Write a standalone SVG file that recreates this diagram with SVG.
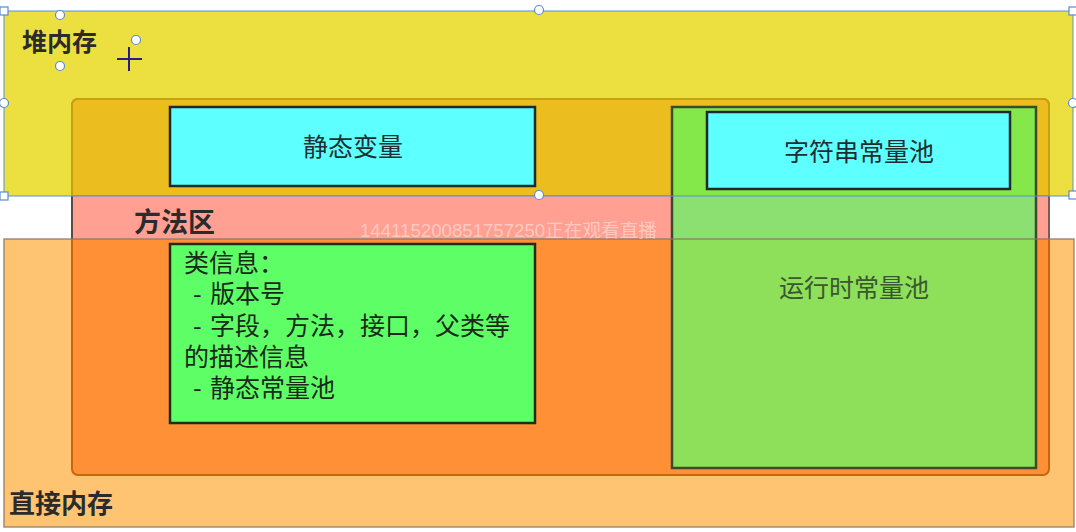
<svg xmlns="http://www.w3.org/2000/svg" width="1076" height="532" viewBox="0 0 1076 532">
  <style>
    .cjk { font-family: "Noto Sans CJK SC", "Noto Sans", sans-serif; }
    .title { font-weight: bold; fill: #2b2b2b; }
    .box { stroke-width: 2.5; }
    .cyan { fill: #5effff; stroke: #1f2b2b; }
    .lbl { font-size: 25px; fill: #1e2e30; }
    .info { font-size: 25px; fill: #1a2a1a; }
    .handle { fill: #ffffff; stroke: #5b8bd0; stroke-width: 1.2; }
  </style>
  <rect width="1076" height="532" fill="#ffffff"/>

  <!-- base fills of outer regions -->
  <g id="heap-fill">
    <rect x="4" y="11" width="1069" height="185" fill="#ebe040"/>
  </g>
  <g id="direct-memory-fill">
    <rect x="4" y="239" width="1070" height="288" fill="#ffc472"/>
  </g>

  <!-- 方法区 -->
  <g id="method-area">
    <rect x="72" y="99" width="977" height="376" rx="6" fill="#ff9036" stroke="#c8650f" stroke-width="2"/>
    <path d="M72,196 V105 a6,6 0 0 1 6,-6 H1043 a6,6 0 0 1 6,6 V196 Z" fill="#ecbd1e" stroke="#c9a012" stroke-width="2"/>
    <rect x="71" y="196" width="979" height="43" fill="#ffa092"/>
    <line x1="72" y1="196" x2="72" y2="239" stroke="#5e4a44" stroke-width="2"/>
    <line x1="1049" y1="196" x2="1049" y2="239" stroke="#7a5a52" stroke-width="2"/>
    <text class="cjk title" x="134" y="232" font-size="27">方法区</text>
  </g>

  <!-- 运行时常量池 -->
  <g id="runtime-constant-pool">
    <rect x="672" y="107" width="364" height="361" fill="#8edf59"/>
    <rect x="672" y="107" width="364" height="89" fill="#84e84b"/>
    <rect x="672" y="196" width="364" height="43" fill="#8ce072"/>
    <rect x="672" y="107" width="364" height="361" fill="none" stroke="#3e4a30" stroke-width="2.5"/>
    <text class="cjk" x="854" y="297" font-size="25" fill="#3a5830" text-anchor="middle">运行时常量池</text>
  </g>

  <!-- 静态变量 -->
  <g id="static-vars">
    <rect class="box cyan" x="170" y="107" width="365" height="79"/>
    <text class="cjk lbl" x="353" y="156" text-anchor="middle">静态变量</text>
  </g>

  <!-- 字符串常量池 -->
  <g id="string-pool">
    <rect class="box cyan" x="707" y="112" width="303" height="77"/>
    <text class="cjk lbl" x="859" y="161" text-anchor="middle">字符串常量池</text>
  </g>

  <!-- 类信息 -->
  <g id="class-info">
    <rect class="box" x="170" y="244" width="365" height="179" fill="#5eff66" stroke="#1e2e1e"/>
    <text class="cjk info">
      <tspan x="184" y="272">类信息：</tspan>
      <tspan x="193" y="303">-</tspan><tspan x="210" y="303">版本号</tspan>
      <tspan x="193" y="335">-</tspan><tspan x="210" y="335">字段，方法，接口，父类等</tspan>
      <tspan x="184" y="366">的描述信息</tspan>
      <tspan x="193" y="397">-</tspan><tspan x="210" y="397">静态常量池</tspan>
    </text>
  </g>

  <!-- outlines on top -->
  <g id="direct-memory">
    <rect x="4" y="239" width="1070" height="288" fill="none" stroke="#8a7664" stroke-opacity="0.75" stroke-width="1.6"/>
    <text class="cjk title" x="9" y="513" font-size="26" fill="#2e2e2e">直接内存</text>
  </g>

  <g id="heap">
    <rect x="4" y="11" width="1069" height="185" fill="none" stroke="#5a8fd6" stroke-width="1"/>
    <text class="cjk title" x="22" y="51" font-size="25">堆内存</text>
  </g>

  <!-- watermark -->
  <text x="360" y="237" font-family="Liberation Sans, Noto Sans CJK SC, sans-serif" font-size="18.5" fill="#ffffff" fill-opacity="0.45" textLength="297" lengthAdjust="spacingAndGlyphs">144115200851757250正在观看直播</text>

  <!-- selection handles and cursor -->
  <g id="selection">
    <rect class="handle" x="0" y="7" width="8" height="8"/>
    <rect class="handle" x="1069" y="7" width="8" height="8"/>
    <rect class="handle" x="0" y="192" width="8" height="8"/>
    <rect class="handle" x="1069" y="191" width="8" height="8"/>
    <circle class="handle" cx="539" cy="10" r="4.5"/>
    <circle class="handle" cx="539" cy="195" r="4.5"/>
    <circle class="handle" cx="4" cy="103" r="4.5"/>
    <circle class="handle" cx="1073" cy="103" r="4.5"/>
    <circle class="handle" cx="60" cy="15" r="4.5"/>
    <circle class="handle" cx="60" cy="66" r="4.5"/>
    <circle class="handle" cx="136" cy="40" r="4.5"/>
    <path d="M129,47 V71 M117,59 H142" stroke="#2a1a8a" stroke-width="2" fill="none"/>
  </g>
</svg>
